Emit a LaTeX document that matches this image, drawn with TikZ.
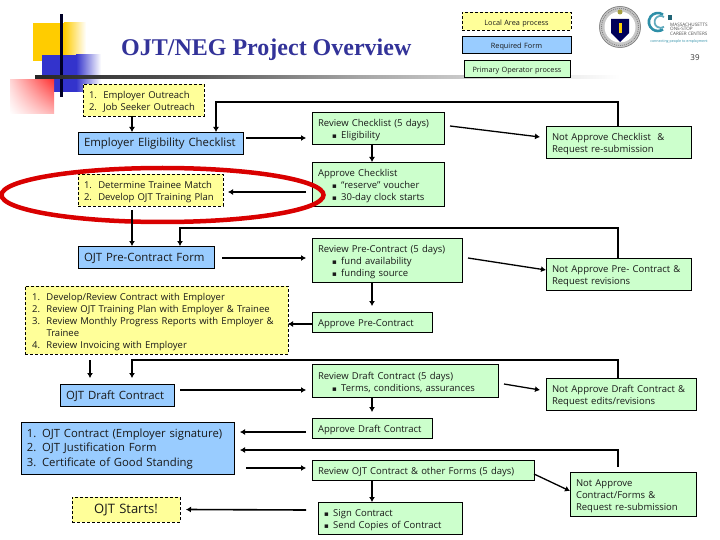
\documentclass[tikz,border=0pt]{standalone}
\usepackage{fontspec}
\setmainfont{Open Sans}
\newfontfamily\titlefont{Liberation Serif}
\newfontfamily\symfont{DejaVu Sans}
\usetikzlibrary{arrows.meta,calc,shadings}
\definecolor{yel}{HTML}{FFFF99}
\definecolor{blu}{HTML}{99CCFF}
\definecolor{grn}{HTML}{CCFFCC}
\definecolor{ttl}{HTML}{333399}
\definecolor{teal1}{HTML}{2E8FA8}
\definecolor{decoY}{HTML}{FFCC00}
\definecolor{decoB}{HTML}{3333CC}
\definecolor{decoR}{HTML}{FF3333}
\newcommand{\bu}{{\symfont\scriptsize ▪}\hspace{4.5pt}}
\newcommand{\lowr}{\rule{0pt}{10.5pt}}
% \bx{name}{style}{x1}{y1}{x2}{y2}{align}{text}
\newcommand{\bx}[8]{%
  \pgfmathsetlengthmacro{\bh}{(#6-#4)*1pt}%
  \pgfmathsetlengthmacro{\btw}{(#5-#3-12)*1pt}%
  \node[#2,anchor=north west,text width=\btw,minimum height=\bh,align=#7] (#1) at (#3,#4) {\lowr#8};}
\tikzset{
  basebox/.style={draw=black,line width=0.7pt,inner xsep=6pt,inner ysep=0pt,outer sep=0pt,font=\fontsize{9.5}{12}\selectfont,text=black!90},
  localbox/.style={basebox,fill=yel,dash pattern=on 3pt off 2pt},
  formbox/.style={basebox,fill=blu},
  opbox/.style={basebox,fill=grn},
  legendtext/.style={font=\fontsize{7.3}{9}\selectfont},
  bigform/.style={font=\fontsize{11.4}{13}\selectfont},
  arr/.style={line width=1.6pt,-{Latex[length=5pt,width=6pt]}},
  thinarr/.style={line width=1.3pt,-{Latex[length=5pt,width=6pt]}},
  looparr/.style={line width=1.8pt,-{Latex[length=5pt,width=6pt]}},
}
\begin{document}
\begin{tikzpicture}[x=1pt,y=-1pt]
\useasboundingbox (0,0) rectangle (720,540);
% decoration
\fill[white] (0,0) rectangle (720,540);
\fill[decoY] (33,23) rectangle (64,61);
\shade[left color=decoY,right color=white] (64,23) rectangle (86,61);
\fill[decoB] (42,55) rectangle (76,92);
\shade[left color=decoB,right color=white] (76,55) rectangle (101,92);
\shade[upper right=decoR,upper left=decoR!20,lower right=decoR!35,lower left=white] (10,80) rectangle (54,114);
\fill[black!85!blue] (60,14) rectangle (63,97);
\shade[left color=black!85,right color=black!65] (35,76) rectangle (200,79);
\shade[left color=black!65,right color=black!35] (200,76) rectangle (360,79);
\shade[left color=black!35,right color=white] (360,76) rectangle (620,79);
% title
\node[anchor=west,inner sep=0pt,text=ttl,font=\titlefont\bfseries\fontsize{24}{26}\selectfont] (title) at (121,50) {OJT/NEG Project Overview};
\node[inner sep=0pt,font=\fontsize{8}{9}\selectfont,text=black!80] (page) at (695,58) {39};
% seal
\fill[black!22] (620,27) circle (21);
\draw[black!50,line width=0.8pt,dash pattern=on 1pt off 1pt] (620,27) circle (18.5);
\fill[white] (620,27) circle (15.5);
\draw[black!55,line width=0.5pt] (620,27) circle (20.5);
\fill[blue!35!black] (611,19) -- (629,19) -- (629,33) -- (620,42) -- (611,33) -- cycle;
\fill[yellow!70!orange] (618.5,23) rectangle (621.5,33);
\fill[yellow!60!black] (620,12) circle (2.5);
% career centre logo
\draw[teal1,line width=2.6pt] (663,14.6) arc (55:305:9pt);
\draw[teal1!75,line width=1.8pt] (664,17) arc (55:305:6pt);
\fill[teal1!70!black] (668,15) rectangle (672,20);
\node[anchor=west,inner sep=0pt,align=left,font=\fontsize{4.6}{4.6}\selectfont,text=black!70] (cclogo) at (670,29) {MASSACHUSETTS\\ONE-STOP\\CAREER CENTERS};
\node[anchor=center,inner sep=0pt,font=\fontsize{3.6}{4}\selectfont,text=teal1] (cctag) at (679,42) {connecting people to employment};
% legend
\bx{lgL}{localbox,legendtext}{462}{12}{571}{30}{center}{Local Area process}
\bx{lgF}{formbox,legendtext}{462}{36}{571}{53}{center}{Required Form}
\bx{lgO}{opbox,legendtext}{464}{60}{570}{77}{center}{Primary Operator process}
% left column
\bx{out}{localbox}{83}{84}{204}{116}{left}{1.\ \ Employer Outreach\\2.\ \ Job Seeker Outreach}
\bx{emp}{formbox,bigform}{78}{132}{243}{154}{left}{Employer Eligibility Checklist}
\bx{det}{localbox}{78}{174}{223}{206}{left}{1.\ \ Determine Trainee Match\\2.\ \ Develop OJT Training Plan}
\bx{pre}{formbox,bigform}{78}{246}{214}{268}{left}{OJT Pre-Contract Form}
\node[localbox,anchor=north west,minimum height=68pt,text width=251pt,align=left] (dev) at (25,286) {%
  \lowr\makebox[15.5pt][r]{1.\ \ }Develop/Review Contract with Employer\\
  \makebox[15.5pt][r]{2.\ \ }Review OJT Training Plan with Employer \& Trainee\\
  \makebox[15.5pt][r]{3.\ \ }Review Monthly Progress Reports with Employer \&\\
  \hspace*{15.5pt}Trainee\\
  \makebox[15.5pt][r]{4.\ \ }Review Invoicing with Employer};
\bx{dra}{formbox,bigform}{60}{384}{174}{406}{left}{OJT Draft Contract}
\bx{lst}{formbox,font=\fontsize{11.3}{14.5}\selectfont}{21}{422}{234}{474}{left}{1. OJT Contract (Employer signature)\\2. OJT Justification Form\\3. Certificate of Good Standing}
\bx{sta}{localbox,font=\fontsize{13}{15}\selectfont}{72}{497}{180}{522}{center}{OJT Starts!}
% middle column
\bx{rvC}{opbox}{312}{112}{444}{144}{left}{Review Checklist (5 days)\\\hspace*{14pt}\bu Eligibility}
\bx{apC}{opbox}{312}{162}{444}{206}{left}{Approve Checklist\\\hspace*{14pt}\bu “reserve” voucher\\\hspace*{14pt}\bu 30-day clock starts}
\bx{rvP}{opbox}{312}{238}{462}{282}{left}{Review Pre-Contract (5 days)\\\hspace*{14pt}\bu fund availability\\\hspace*{14pt}\bu funding source}
\bx{apP}{opbox}{312}{312}{432}{332}{left}{Approve Pre-Contract}
\bx{rvD}{opbox}{312}{364}{498}{397}{left}{Review Draft Contract (5 days)\\\hspace*{14pt}\bu Terms, conditions, assurances}
\bx{apD}{opbox}{312}{418}{432}{438}{left}{Approve Draft Contract}
\bx{rvO}{opbox}{312}{460}{534}{480}{left}{Review OJT Contract \& other Forms (5 days)}
\bx{sgn}{opbox}{318}{502}{462}{534}{left}{\bu Sign Contract\\\bu Send Copies of Contract}
% right column
\bx{naC}{opbox}{546}{126}{691}{158}{left}{Not Approve Checklist \ \&\\Request re-submission}
\bx{naP}{opbox}{546}{258}{691}{290}{left}{Not Approve Pre- Contract \&\\Request revisions}
\bx{naD}{opbox}{546}{378}{696}{410}{left}{Not Approve Draft Contract \&\\Request edits/revisions}
\bx{naO}{opbox}{570}{472}{696}{516}{left}{Not Approve\\Contract/Forms \&\\Request re-submission}
% ellipse
\draw[red!85!black,line width=4.5pt] (162.5,195) ellipse [x radius=161,y radius=27];
% loop corners
\coordinate (c1a) at (618,102); \coordinate (c1b) at (216,102);
\coordinate (c2a) at (618,228); \coordinate (c2b) at (180,228);
\coordinate (c3a) at (618,360); \coordinate (c3b) at (132,360);
\coordinate (c4a) at (618,450);
% connectors
\draw[arr] ([xshift=-11.5pt]out.south) -- ([xshift=-28.5pt]emp.north);
\draw[looparr] (naC.north -| c1a) -- (c1a) -- (c1b) -- ([xshift=55.5pt]emp.north);
\draw[arr] ([yshift=5pt,xshift=3pt]emp.east) -- ([yshift=-10pt,xshift=-6pt]rvC.west);
\draw[arr] ([xshift=-6pt]rvC.south) -- ([xshift=-6pt]apC.north);
\draw[thinarr] ([yshift=2pt,xshift=6pt]rvC.east) -- ([yshift=5pt,xshift=-6pt]naC.west);
\draw[arr] ([yshift=-8pt,xshift=-6pt]apC.west) -- ([yshift=-2pt,xshift=5pt]det.east);
\draw[arr,shorten <=4pt] ([xshift=-18.5pt]det.south) -- ([xshift=-14pt]pre.north);
\draw[looparr] (naP.north -| c2a) -- (c2a) -- (c2b) -- ([xshift=34pt]pre.north);
\draw[arr] ([yshift=-1pt,xshift=8pt]pre.east) -- ([yshift=2pt,xshift=-6pt]rvP.west);
\draw[arr] ([xshift=-15pt]rvP.south) -- ([yshift=6pt]apP.north);
\draw[thinarr] ([yshift=2pt,xshift=6pt]rvP.east) -- ([yshift=4pt]naP.west);
\draw[arr] ([yshift=-2pt]apP.west) -- ([yshift=-4pt]dev.east);
\draw[arr,shorten <=6pt,shorten >=6pt] ([xshift=-66.5pt]dev.south) -- ([xshift=-27pt]dra.north);
\draw[looparr] (naD.north -| c3a) -- (c3a) -- (c3b) -- ([xshift=15pt,yshift=6pt]dra.north);
\draw[arr] ([yshift=5pt,xshift=6pt]dra.east) -- ([yshift=-9.5pt,xshift=-6pt]rvD.west);
\draw[arr,shorten >=6pt] ([xshift=-33pt]rvD.south) -- (apD.north);
\draw[thinarr] ([yshift=-3.5pt,xshift=6pt]rvD.east) -- ([yshift=4pt,xshift=-6pt]naD.west);
\draw[arr] ([yshift=-4pt,xshift=-6pt]apD.west) -- ([yshift=16pt,xshift=6pt]lst.east);
\draw[looparr,shorten <=5pt] (naO.north -| c4a) -- (c4a) -- ([xshift=6pt,yshift=-2pt]lst.east);
\draw[arr] ([yshift=-20pt,xshift=12pt]lst.east) -- ([yshift=2pt,xshift=-6pt]rvO.west);
\draw[arr] ([xshift=-51pt]rvO.south) -- ([xshift=-18pt]sgn.north);
\draw[thinarr] ([yshift=-4pt]rvO.east) -- ([yshift=3pt]naO.west);
\draw[arr] ([yshift=8pt,xshift=-12pt]sgn.west) -- ([xshift=6pt]sta.east);
\end{tikzpicture}
\end{document}
